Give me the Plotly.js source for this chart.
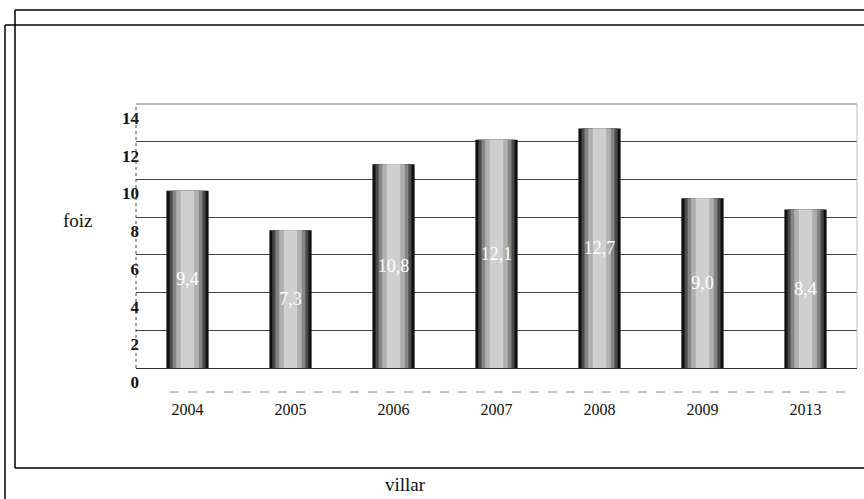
<!DOCTYPE html>
<html>
<head>
<meta charset="utf-8">
<script src="https://cdn.plot.ly/plotly-3.0.1.min.js"></script>
<style>html,body{margin:0;padding:0;background:#fff;}#chart{width:864px;height:499px;}</style>
</head>
<body>
<div id="chart"></div>
<script>
// Data
const years = ['2004', '2005', '2006', '2007', '2008', '2009', '2013'];
const values = [9.4, 7.3, 10.8, 12.1, 12.7, 9.0, 8.4];
const valueLabels = ['9,4', '7,3', '10,8', '12,1', '12,7', '9,0', '8,4'];
const yTicks = [0, 2, 4, 6, 8, 10, 12, 14];
const yTitle = 'foiz';
const xTitle = 'villar';

// Layout geometry (pixels)
const W = 864, H = 499;
const L = 136, R = 857, T = 104, B = 368;
const px = x => (x - L) / (R - L);
const py = y => (B - y) / (B - T);

// cylinder-like shading with overlaid bars of decreasing width
const layers = [
  {w: 0.41, c: '#111111'},
  {w: 0.35, c: '#4a4a4a'},
  {w: 0.29, c: '#858585'},
  {w: 0.22, c: '#b0b0b0'},
  {w: 0.13, c: '#cfcfcf'}
];
const traces = layers.map((ly, i) => ({
  type: 'bar',
  x: years,
  y: values,
  width: years.map(() => ly.w),
  marker: {color: ly.c, line: {width: 0}},
  text: i === layers.length - 1 ? valueLabels : undefined,
  textposition: i === layers.length - 1 ? 'inside' : 'none',
  insidetextanchor: 'middle',
  constraintext: 'none',
  textangle: 0,
  textfont: {family: 'Liberation Serif', size: 18, color: '#ffffff'},
  cliponaxis: false,
  hoverinfo: 'skip',
  showlegend: false
}));

const frame = {color: '#000', width: 1.5};
const shapes = [
  // scanned page frames
  {type: 'line', xref: 'paper', yref: 'paper', x0: px(15), x1: px(870), y0: py(10), y1: py(10), line: frame},
  {type: 'line', xref: 'paper', yref: 'paper', x0: px(15), x1: px(15), y0: py(10), y1: py(468), line: frame},
  {type: 'line', xref: 'paper', yref: 'paper', x0: px(15), x1: px(870), y0: py(468), y1: py(468), line: frame},
  {type: 'line', xref: 'paper', yref: 'paper', x0: px(5), x1: px(870), y0: py(25), y1: py(25), line: frame},
  {type: 'line', xref: 'paper', yref: 'paper', x0: px(5), x1: px(5), y0: py(25), y1: py(505), line: frame},
  // faint dashed line near "0"
  {type: 'line', xref: 'paper', yref: 'paper', x0: px(170), x1: px(850), y0: py(392), y1: py(392), line: {color: '#888', width: 1, dash: 'dash'}},
  // plot area edges
  {type: 'line', xref: 'paper', yref: 'paper', x0: 0, x1: 1, y0: 1, y1: 1, line: {color: '#777', width: 1}},
  {type: 'line', xref: 'paper', yref: 'paper', x0: 0, x1: 0, y0: 0, y1: 1, line: {color: '#444', width: 1, dash: 'dot'}},
  {type: 'line', xref: 'paper', yref: 'paper', x0: 1, x1: 1, y0: 0, y1: 1, line: {color: '#bbb', width: 1}}
];

const layout = {
  width: W, height: H,
  margin: {l: L, r: W - R, t: T, b: H - B, pad: 0},
  paper_bgcolor: '#ffffff',
  plot_bgcolor: '#ffffff',
  barmode: 'overlay',
  font: {family: 'Liberation Serif', color: '#111'},
  xaxis: {
    type: 'category',
    categoryorder: 'array',
    categoryarray: years,
    showgrid: false,
    zeroline: false,
    showline: false,
    ticks: '',
    ticklabelstandoff: 30,
    tickfont: {family: 'Liberation Serif', size: 16, color: '#111'}
  },
  yaxis: {
    range: [0, 14],
    tickvals: yTicks,
    ticktext: yTicks.map(String),
    showgrid: true,
    gridcolor: '#444',
    gridwidth: 1,
    zeroline: true,
    zerolinecolor: '#333',
    zerolinewidth: 1,
    showline: false,
    ticks: '',
    ticklabelshift: 14,
    ticklabelstandoff: -4,
    tickfont: {family: 'Liberation Serif', size: 17, color: '#111', weight: 'bold'}
  },
  shapes: shapes,
  annotations: [
    {text: yTitle, xref: 'paper', yref: 'paper', x: px(78), y: py(220), showarrow: false,
     xanchor: 'center', yanchor: 'middle', font: {family: 'Liberation Serif', size: 19, color: '#111'}},
    {text: xTitle, xref: 'paper', yref: 'paper', x: px(405), y: py(484), showarrow: false,
     xanchor: 'center', yanchor: 'middle', font: {family: 'Liberation Serif', size: 19, color: '#111'}}
  ]
};

Plotly.newPlot('chart', traces, layout, {displayModeBar: false, staticPlot: true});
</script>
</body>
</html>
